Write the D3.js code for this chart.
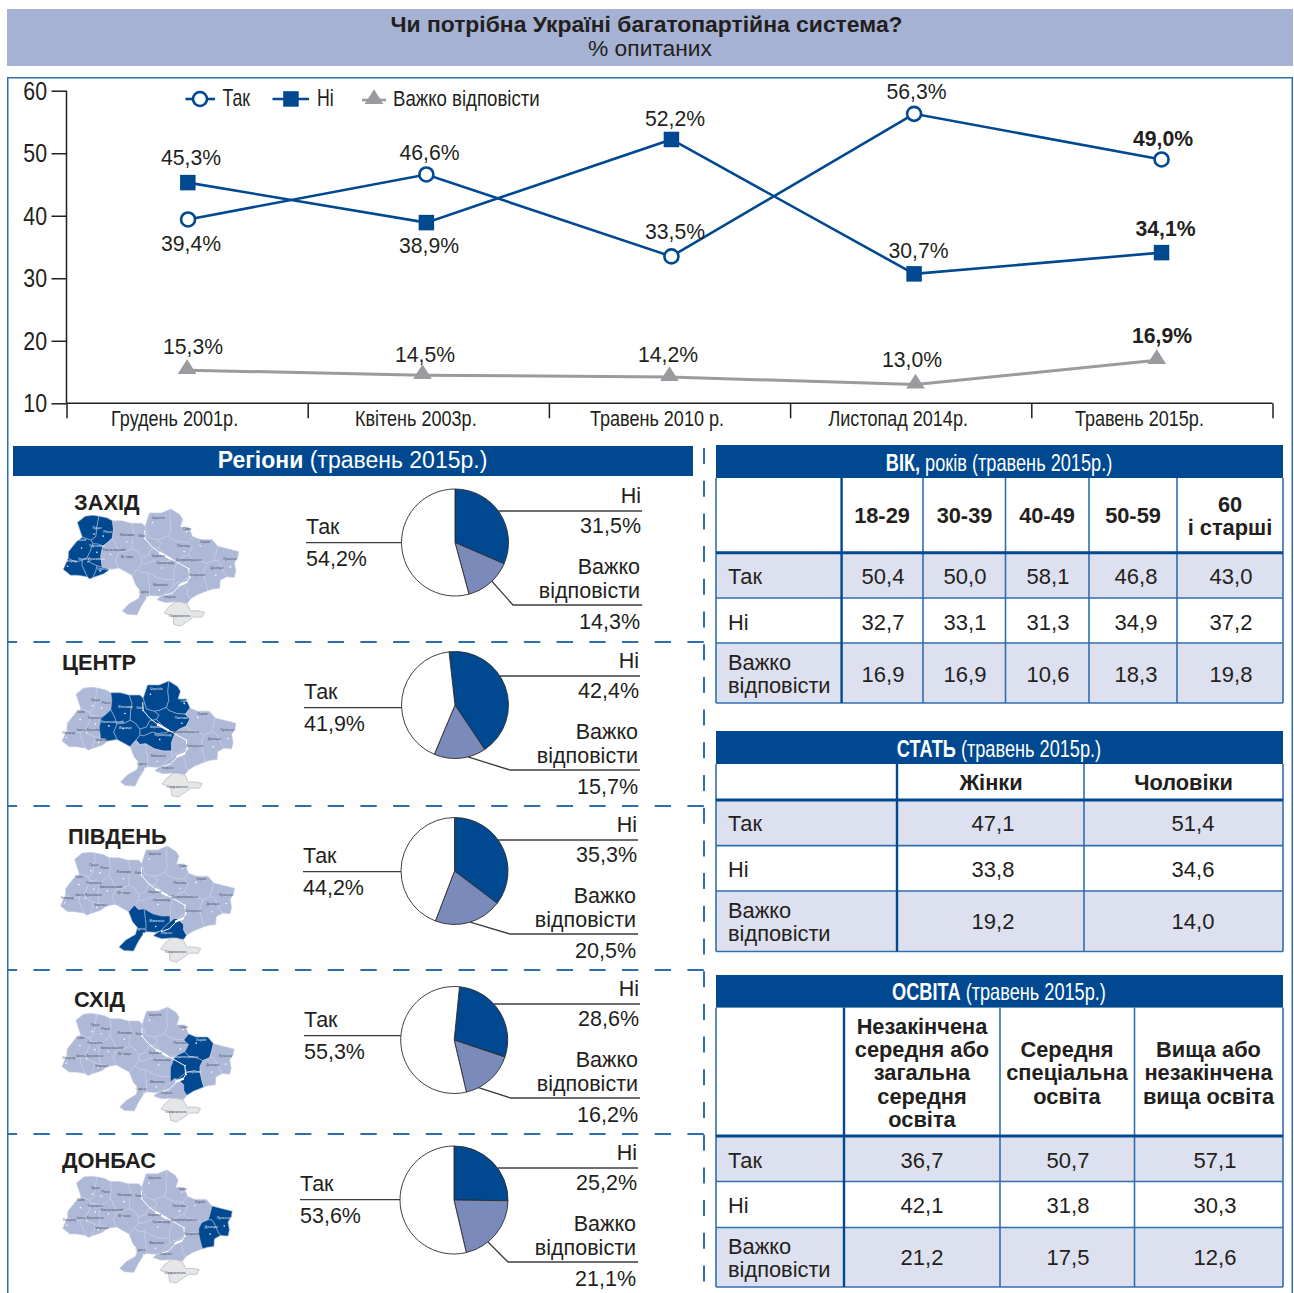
<!DOCTYPE html>
<html lang="uk">
<head>
<meta charset="utf-8">
<title>Чи потрібна Україні багатопартійна система?</title>
<script src="https://cdn.jsdelivr.net/npm/d3@7"></script>
<style>html,body{margin:0;padding:0;background:#fff}svg{display:block}</style>
</head>
<body>
<svg id="c" width="1294" height="1293" viewBox="0 0 1294 1293"></svg>
<script>
// ---------- line chart data ----------
const waves = ["Грудень 2001р.", "Квітень 2003р.", "Травень 2010 р.", "Листопад 2014р.", "Травень 2015р."];
const yesSeries = [39.4, 46.6, 33.5, 56.3, 49.0];
const noSeries = [45.3, 38.9, 52.2, 30.7, 34.1];
const hardSeries = [15.3, 14.5, 14.2, 13.0, 16.9];
const answers = ["Так", "Ні", "Важко відповісти"];
// placement of each survey wave along the axis, in band units
const yesAt = [0.504, 1.492, 2.508, 3.514, 4.54];
const noAt = [0.503, 1.492, 2.508, 3.514, 4.54];
const hardAt = [0.5, 1.476, 2.5, 3.52, 4.52];

// ---------- regional pies ----------
const regions = ["ЗАХІД", "ЦЕНТР", "ПІВДЕНЬ", "СХІД", "ДОНБАС"];
const regionKeys = ["west", "center", "south", "east", "donbas"];
const regYes = [54.2, 41.9, 44.2, 55.3, 53.6];
const regNo = [31.5, 42.4, 35.3, 28.6, 25.2];
const regHard = [14.3, 15.7, 20.5, 16.2, 21.1];

// ---------- tables ----------
const rowLabels = [["Так"], ["Ні"], ["Важко", "відповісти"]];
const ageHead = [["18-29"], ["30-39"], ["40-49"], ["50-59"], ["60", "і старші"]];
const ageYes = [50.4, 50.0, 58.1, 46.8, 43.0];
const ageNo = [32.7, 33.1, 31.3, 34.9, 37.2];
const ageHard = [16.9, 16.9, 10.6, 18.3, 19.8];
const sexHead = [["Жінки"], ["Чоловіки"]];
const sexYes = [47.1, 51.4];
const sexNo = [33.8, 34.6];
const sexHard = [19.2, 14.0];
const eduHead = [["Незакінчена", "середня або", "загальна", "середня", "освіта"], ["Середня", "спеціальна", "освіта"], ["Вища або", "незакінчена", "вища освіта"]];
const eduYes = [36.7, 50.7, 57.1];
const eduNo = [42.1, 31.8, 30.3];
const eduHard = [21.2, 17.5, 12.6];

// ---------- map geography (approximate lon/lat of oblasts) ----------
const oblasts = [
 ["Волинь","west",[[23.6,51.5],[24.4,51.9],[25.2,51.95],[25.8,51.9],[25.6,51.2],[25.5,50.6],[25.0,50.35],[24.1,50.55]]],
 ["Рівне","west",[[25.8,51.9],[26.6,51.8],[27.2,51.6],[27.3,51.1],[27.2,50.5],[26.7,50.2],[26.2,49.95],[25.7,50.1],[25.2,50.1],[25.0,50.35],[25.5,50.6],[25.6,51.2]]],
 ["Львів","west",[[22.7,49.6],[23.5,50.25],[24.1,50.55],[25.0,50.35],[25.2,50.1],[24.9,49.6],[24.6,49.2],[24.1,49.0],[23.4,48.9],[22.65,49.15]]],
 ["Тернопіль","west",[[25.2,50.1],[25.7,50.1],[26.2,49.95],[26.0,49.3],[26.15,48.55],[25.6,48.65],[24.95,48.85],[24.6,49.2],[24.9,49.6]]],
 ["Франківськ","west",[[24.1,49.0],[24.6,49.2],[24.95,48.85],[25.6,48.65],[25.5,48.3],[25.2,47.85],[24.85,47.75],[24.6,47.9],[24.05,48.7]]],
 ["Ужгород","west",[[22.15,48.4],[22.65,49.15],[23.4,48.9],[24.1,49.0],[24.05,48.7],[24.6,47.9],[23.6,48.0],[22.9,48.0]]],
 ["Чернівці","west",[[25.2,47.85],[25.5,48.3],[25.6,48.65],[26.15,48.55],[26.6,48.55],[26.9,48.4],[26.3,48.1]]],
 ["Хмельницький","center",[[27.2,50.5],[27.6,50.0],[27.85,49.55],[27.5,49.0],[27.85,48.5],[26.9,48.4],[26.6,48.55],[26.15,48.55],[26.0,49.3],[26.2,49.95],[26.7,50.2]]],
 ["Житомир","center",[[27.2,51.6],[28.2,51.6],[29.1,51.45],[29.4,50.9],[29.25,50.4],[29.2,49.8],[28.6,49.6],[27.85,49.55],[27.6,50.0],[27.2,50.5],[27.3,51.1]]],
 ["Київ","center",[[29.1,51.45],[30.2,51.45],[30.55,51.25],[30.9,50.55],[31.7,50.4],[32.2,50.15],[31.9,49.85],[31.2,49.75],[30.9,49.35],[30.2,49.2],[29.75,49.6],[29.2,49.8],[29.25,50.4],[29.4,50.9]]],
 ["Чернігів","center",[[30.55,51.25],[31.0,52.1],[32.2,52.1],[33.2,52.35],[33.1,51.7],[33.2,51.1],[32.95,50.65],[32.2,50.45],[31.7,50.4],[30.9,50.55]]],
 ["Суми","center",[[33.2,52.35],[34.1,52.0],[34.4,51.7],[34.15,51.2],[35.0,51.2],[35.4,50.6],[34.9,50.2],[34.0,50.25],[33.2,50.45],[32.95,50.65],[33.2,51.1],[33.1,51.7]]],
 ["Полтава","center",[[31.7,50.4],[32.2,50.45],[32.95,50.65],[33.2,50.45],[34.0,50.25],[34.9,50.2],[35.4,49.9],[35.0,49.4],[34.3,49.2],[33.9,49.0],[33.2,49.05],[32.2,49.65],[31.9,49.85],[32.2,50.15]]],
 ["Черкаси","center",[[30.2,49.2],[30.9,49.35],[31.2,49.75],[31.9,49.85],[32.2,49.65],[33.2,49.05],[32.9,48.95],[32.0,48.9],[31.5,49.0],[30.6,48.75],[30.2,48.8]]],
 ["Кіровоград","center",[[30.2,48.8],[30.6,48.75],[31.5,49.0],[32.0,48.9],[32.9,48.95],[33.2,49.05],[33.9,49.0],[33.5,48.3],[33.5,47.7],[32.6,47.7],[31.7,47.85],[31.2,48.05],[30.8,48.2],[30.2,48.15],[29.8,48.45]]],
 ["Вінниця","center",[[27.85,49.55],[28.6,49.6],[29.2,49.8],[29.75,49.6],[30.2,49.2],[30.2,48.8],[29.8,48.45],[29.2,48.0],[28.8,48.15],[27.85,48.5],[27.5,49.0]]],
 ["Одеса","south",[[29.2,48.0],[29.8,48.45],[30.2,48.15],[30.8,48.2],[31.0,47.2],[31.0,46.6],[30.75,46.48],[30.2,45.9],[29.7,45.2],[28.7,45.25],[28.2,45.5],[28.9,46.0],[29.9,46.4],[30.1,46.9],[29.6,47.3]]],
 ["Миколаїв","south",[[30.8,48.2],[31.2,48.05],[31.7,47.85],[32.6,47.7],[33.5,47.7],[33.5,47.3],[33.0,47.0],[32.5,46.65],[32.0,46.55],[31.0,46.6],[31.0,47.2]]],
 ["Херсон","south",[[33.0,47.0],[33.5,47.3],[33.9,47.55],[34.3,47.5],[34.9,47.1],[34.9,46.7],[35.2,46.35],[34.9,46.05],[34.2,46.1],[33.65,46.15],[32.6,46.1],[31.75,46.3],[32.1,46.5],[32.5,46.65]]],
 ["Харків","east",[[34.9,50.2],[35.4,50.6],[36.2,50.4],[37.4,50.4],[38.0,49.95],[37.8,49.4],[37.6,49.0],[36.9,48.8],[36.2,49.0],[35.4,49.1],[35.0,49.4],[35.4,49.9]]],
 ["Дніпро","east",[[33.9,49.0],[34.3,49.2],[35.0,49.4],[35.4,49.1],[36.2,49.0],[36.9,48.8],[36.6,48.4],[36.6,48.0],[36.0,48.1],[35.3,48.0],[34.9,47.85],[34.3,47.5],[33.9,47.55],[33.5,47.3],[33.5,47.7],[33.5,48.3]]],
 ["Запоріжжя","east",[[34.9,47.85],[35.3,48.0],[36.0,48.1],[36.6,48.0],[36.8,47.4],[37.0,46.95],[35.9,46.65],[35.2,46.35],[34.9,46.7],[34.9,47.1],[34.3,47.5]]],
 ["Луганськ","donbas",[[38.0,49.95],[38.9,49.8],[40.15,49.6],[40.05,49.2],[39.7,48.85],[39.85,48.3],[39.7,47.85],[38.9,47.9],[38.6,48.2],[38.2,48.8],[37.95,49.0],[37.6,49.0],[37.8,49.4]]],
 ["Донецьк","donbas",[[37.6,49.0],[37.95,49.0],[38.2,48.8],[38.6,48.2],[38.9,47.9],[38.25,47.65],[38.2,47.1],[37.5,47.05],[37.0,46.95],[36.8,47.4],[36.6,48.0],[36.6,48.4],[36.9,48.8]]],
 ["Крим","crimea",[[33.65,46.15],[34.2,46.15],[34.9,45.95],[35.2,45.5],[36.0,45.5],[36.65,45.4],[36.4,45.05],[35.5,45.05],[35.0,44.8],[34.2,44.4],[33.5,44.5],[33.4,45.1],[32.5,45.35],[33.0,45.8]]]
];
const dnieper = [[30.5,51.0],[30.55,50.45],[31.2,49.95],[31.9,49.6],[32.6,49.3],[33.4,49.05],[34.2,48.75],[35.0,48.45],[35.1,47.85],[34.9,47.6],[34.2,47.35],[33.4,46.8],[32.6,46.6]];
const reservoirs = [[[32.0,49.55],[33.2,49.1]],[[34.9,47.55],[34.0,47.3]]];
// name, lon, lat of the city, then lon, lat of its caption
const cities = [["Луцьк",25.3,50.75,25.6,51.1],["Рівне",26.25,50.62,26.7,50.85],["Львів",24.03,49.84,24.05,50.3],["Тернопіль",25.6,49.55,25.6,49.9],["Хмельницький",27.0,49.42,27.35,49.62],["Івано-Франківськ",24.7,48.92,25.05,49.05],["Ужгород",22.6,48.62,22.85,48.9],["Чернівці",25.93,48.3,26.3,48.38],["Житомир",28.66,50.25,28.7,50.6],["Київ",30.52,50.45,30.2,50.55],["Чернігів",31.3,51.5,31.9,51.75],["Суми",34.8,50.9,34.85,51.0],["Полтава",34.55,49.6,34.5,49.9],["Харків",36.2,49.99,36.7,50.15],["Луганськ",39.3,48.57,39.25,49.05],["Донецьк",37.8,48.0,37.9,48.45],["Дніпропетровськ",35.04,48.46,35.0,48.95],["Запоріжжя",35.14,47.84,35.85,47.95],["Кіровоград",32.26,48.5,32.6,48.75],["Черкаси",32.06,49.44,31.9,49.25],["Вінниця",28.47,49.23,28.7,49.2],["Миколаїв",32.0,46.97,32.1,47.25],["Одеса",30.73,46.48,30.4,46.75],["Херсон",32.62,46.64,33.1,46.45],["Сімферополь",34.1,44.95,34.1,45.05]];

// ---------- style ----------
const BLUE = "#004990", LINE = "#2f6fb0", SHADE = "#dde0ef", BAR = "#a5b2d4", INK = "#231f20",
      GREY = "#9a9b9e", MID = "#7a8bbb", LAND = "#aeb9d8", SANS = "'Liberation Sans',Arial,sans-serif";
const svg = d3.select("#c");
const comma = (v, d = 1) => v.toFixed(d).replace(".", ",");
function text(g, x, y, s, o = {}) {
  const t = g.append("text").text(s)
    .attr("font-family", SANS).attr("font-size", o.s || 21.5)
    .attr("font-weight", o.b ? "bold" : "normal").attr("fill", o.c || INK)
    .attr("text-anchor", o.a || "start");
  if (o.k) t.attr("transform", `translate(${x},${y}) scale(${o.k},1)`);
  else t.attr("x", x).attr("y", y);
  return t;
}

// ---------- header + frame ----------
svg.append("rect").attr("x", 7).attr("y", 9).attr("width", 1286).attr("height", 57).attr("fill", BAR);
text(svg, 646.5, 32, "Чи потрібна Україні багатопартійна система?", {b: 1, a: "middle", s: 22.9});
text(svg, 650, 56, "% опитаних", {a: "middle", s: 22.8});
svg.append("path").attr("d", "M7.75,1293V77.75H1292.25V1293").attr("fill", "none").attr("stroke", LINE).attr("stroke-width", 1.5);

// ---------- line chart ----------
const xU = d3.scaleLinear().domain([0, 5]).range([66.5, 1272.5]);
const yS = d3.scaleLinear().domain([10, 60]).range([403.3, 90.7]);
const gy = svg.append("g").attr("transform", "translate(66.5,0)")
  .call(d3.axisLeft(yS).tickValues([10, 20, 30, 40, 50, 60]).tickSize(15).tickFormat(d => d));
gy.selectAll("text").attr("font-family", SANS).attr("font-size", 26).attr("fill", INK).attr("x", 0).attr("dy", "0.33em")
  .attr("transform", "translate(-19.5,0) scale(0.82,1)");
const gx = svg.append("g").attr("transform", "translate(0,403.3)")
  .call(d3.axisBottom(xU).tickValues(d3.range(6)).tickSize(15).tickSizeOuter(0).tickFormat(""));
[gy, gx].forEach(g => { g.selectAll("line,path").attr("stroke", INK).attr("stroke-width", 1.5); g.select(".domain").attr("d", g === gy ? "M0,403.3V90.7" : "M66.5,0H1272.5"); });
waves.forEach((w, i) => text(svg, xU(i + 0.5) - 12.5, 426, w, {s: 22, k: 0.82, a: "middle"}));

const lineOf = (at) => d3.line().x((d, i) => xU(at[i])).y(d => yS(d));
svg.append("path").datum(hardSeries).attr("d", lineOf(hardAt)).attr("fill", "none").attr("stroke", GREY).attr("stroke-width", 3);
svg.append("path").datum(noSeries).attr("d", lineOf(noAt)).attr("fill", "none").attr("stroke", BLUE).attr("stroke-width", 2.6);
svg.append("path").datum(yesSeries).attr("d", lineOf(yesAt)).attr("fill", "none").attr("stroke", BLUE).attr("stroke-width", 2.6);
const tri = d3.symbol().type(d3.symbolTriangle).size(125);
svg.selectAll(".t").data(hardSeries).join("path").attr("d", tri()).attr("fill", GREY)
  .attr("transform", (d, i) => `translate(${xU(hardAt[i])},${yS(d) - 1}) scale(1.1,1)`);
svg.selectAll(".s").data(noSeries).join("rect").attr("width", 15.5).attr("height", 15.5).attr("fill", BLUE)
  .attr("x", (d, i) => xU(noAt[i]) - 7.75).attr("y", d => yS(d) - 7.75);
svg.selectAll(".o").data(yesSeries).join("circle").attr("r", 7).attr("fill", "#fff").attr("stroke", BLUE).attr("stroke-width", 2.6)
  .attr("cx", (d, i) => xU(yesAt[i])).attr("cy", d => yS(d));
const labelPlaces = {
  yes: [[191, 251], [429.5, 160], [675, 239], [916.5, 99], [1163, 146]],
  no: [[191, 165], [429, 253], [675, 126], [918.6, 258], [1165.5, 236]],
  hard: [[193, 354], [425, 362], [668, 362], [912, 367], [1162, 343]]
};
[[yesSeries, labelPlaces.yes], [noSeries, labelPlaces.no], [hardSeries, labelPlaces.hard]].forEach(([vals, pl]) =>
  vals.forEach((v, i) => text(svg, pl[i][0], pl[i][1], comma(v) + "%", {a: "middle", s: 21.2, b: i === 4})));
// legend
const leg = svg.append("g");
leg.append("line").attr("x1", 185.5).attr("x2", 215).attr("y1", 99).attr("y2", 99).attr("stroke", BLUE).attr("stroke-width", 2.6);
leg.append("circle").attr("cx", 200).attr("cy", 99).attr("r", 7).attr("fill", "#fff").attr("stroke", BLUE).attr("stroke-width", 2.6);
text(leg, 222.5, 106, answers[0], {s: 23, k: 0.77});
leg.append("line").attr("x1", 272.5).attr("x2", 309).attr("y1", 99).attr("y2", 99).attr("stroke", BLUE).attr("stroke-width", 2.6);
leg.append("rect").attr("x", 283.2).attr("y", 91.2).attr("width", 15.5).attr("height", 15.5).attr("fill", BLUE);
text(leg, 317, 106, answers[1], {s: 23, k: 0.77});
leg.append("line").attr("x1", 362).attr("x2", 386).attr("y1", 100).attr("y2", 100).attr("stroke", GREY).attr("stroke-width", 2.6);
leg.append("path").attr("d", tri()).attr("fill", GREY).attr("transform", "translate(374,99) scale(1.1,1)");
text(leg, 393, 106, answers[2], {s: 23, k: 0.81});

// ---------- regions panel ----------
svg.append("rect").attr("x", 13).attr("y", 446).attr("width", 680).attr("height", 30).attr("fill", BLUE);
const rt = text(svg, 352.5, 468, "", {a: "middle", c: "#fff", s: 23});
rt.append("tspan").attr("font-weight", "bold").text("Регіони");
rt.append("tspan").text(" (травень 2015р.)");
svg.append("line").attr("x1", 704).attr("x2", 704).attr("y1", 448).attr("y2", 1293).attr("stroke", LINE).attr("stroke-width", 2).attr("stroke-dasharray", "16 16.7");
[642, 806, 970, 1134].forEach(y => svg.append("line").attr("x1", 8).attr("x2", 704).attr("y1", y).attr("y2", y)
  .attr("stroke", LINE).attr("stroke-width", 1.8).attr("stroke-dasharray", "16.4 16.3").attr("stroke-dashoffset", 7.3));

const features = oblasts.map(([name, group, ring]) => {
  const f = {type: "Feature", properties: {name, group}, geometry: {type: "Polygon", coordinates: [[...ring, ring[0]]]}};
  if (d3.geoArea(f) > 2 * Math.PI) f.geometry.coordinates[0].reverse();
  return f;
});
const fc = {type: "FeatureCollection", features};
const mapBoxes = [[62, 509, 240, 626], [62, 681, 236, 797], [60, 846, 235, 962], [62, 1007, 234, 1122], [62, 1170, 233, 1283]];
const nameAt = [[74, 510], [62, 670], [68, 844], [74, 1007], [62, 1168]];
const pieAt = [[455, 542.5, 53.5], [455, 705, 53.5], [454.5, 871, 53.5], [454.2, 1040, 53.5], [454, 1200, 54]];
const pieStart = [0, -6.4, 0, 5.7, 0];
const noLine = [511, 676, 840, 1004, 1168];
const rightEdge = [642, 640, 638, 640, 638];
const yesLeft = [306, 304, 303, 304, 300];
const elbowX = [513, 510, 510, 510.7, 508];
const leaderAngle = [136.5, 166, 163, 153, 141];
const pieColors = [BLUE, MID, "#fff"];

regions.forEach((name, r) => {
  const key = regionKeys[r], g = svg.append("g");
  // map
  const b = mapBoxes[r];
  const proj = d3.geoMercator().fitExtent([[b[0], b[1]], [b[2], b[3]]], fc);
  const path = d3.geoPath(proj);
  g.selectAll(".ob").data(features).join("path").attr("d", path)
    .attr("fill", d => d.properties.group === key ? BLUE : d.properties.group === "crimea" ? "#e5e6e8" : LAND)
    .attr("stroke", d => d.properties.group === key ? "#9fb4d6" : d.properties.group === "crimea" ? "#a9abae" : "#c6cde3")
    .attr("stroke-width", 0.6).attr("stroke-linejoin", "round");
  const riv = {type: "LineString", coordinates: dnieper};
  g.append("path").attr("d", path(riv)).attr("fill", "none").attr("stroke", "#fff").attr("stroke-width", 1);
  reservoirs.forEach(c => g.append("path").attr("d", path({type: "LineString", coordinates: c})).attr("fill", "none").attr("stroke", "#fff").attr("stroke-width", 2.2));
  const inBlue = (c) => features.find(f => f.properties.group === key && d3.geoContains(f, [c[3], c[4]]));
  cities.forEach(c => {
    const p = proj([c[1], c[2]]), q = proj([c[3], c[4]]), blue = inBlue(c);
    g.append("circle").attr("cx", p[0]).attr("cy", p[1]).attr("r", 0.8).attr("fill", "#fff");
    text(g, q[0], q[1], c[0], {s: 3.4, a: "middle", c: blue ? "#e6ecf6" : "#4a4f66"});
  });
  text(g, nameAt[r][0], nameAt[r][1], name, {b: 1, s: 21.8});
  // pie
  const [cx, cy, R] = pieAt[r];
  const a0 = pieStart[r] * Math.PI / 180;
  const arcs = d3.pie().sort(null).startAngle(a0).endAngle(a0 + 2 * Math.PI)([regNo[r], regHard[r], regYes[r]]);
  const arc = d3.arc().innerRadius(0).outerRadius(R);
  g.append("g").attr("transform", `translate(${cx},${cy})`).selectAll("path").data(arcs).join("path")
    .attr("d", arc).attr("fill", (d, i) => pieColors[i]).attr("stroke", "#2b2b2b").attr("stroke-width", 0.9);
  // leaders and labels
  const L = noLine[r], Rt = rightEdge[r], Y = yesLeft[r];
  const edge = (y) => Math.sqrt(R * R - (y - cy) * (y - cy));
  const stroke = (s) => s.attr("fill", "none").attr("stroke", "#3c3c3c").attr("stroke-width", 1.3);
  g.append("path").attr("d", `M${cx + edge(L)},${L}H${Rt}`).call(stroke);
  const yLine = L + 31.7;
  g.append("path").attr("d", `M${Y},${yLine}H${cx - edge(yLine)}`).call(stroke);
  const hLine = L + 94, ang = leaderAngle[r] * Math.PI / 180;
  g.append("path").attr("d", `M${cx + R * Math.sin(ang)},${cy - R * Math.cos(ang)}L${elbowX[r]},${hLine}H${Rt}`).call(stroke);
  text(g, Rt - 1, L - 7.7, answers[1], {a: "end"});
  text(g, Rt - 1, L + 22, comma(regNo[r]) + "%", {a: "end"});
  text(g, Rt - 2, L + 63, "Важко", {a: "end"});
  text(g, Rt - 2, L + 87, "відповісти", {a: "end"});
  text(g, Rt - 2, L + 117.5, comma(regHard[r]) + "%", {a: "end"});
  text(g, Y, L + 23, answers[0]);
  text(g, Y, L + 54.5, comma(regYes[r]) + "%");
});

// ---------- tables ----------
function table(cfg) {
  const g = svg.append("g"), X = cfg.xs, Y = cfg.ys, xL = X[0], xR = X[X.length - 1];
  g.append("rect").attr("x", xL).attr("y", cfg.top).attr("width", xR - xL).attr("height", Y[0] - cfg.top).attr("fill", BLUE);
  const t = text(g, cfg.titleX, cfg.titleY, "", {s: 23, k: 0.79, a: "middle", c: "#fff"});
  t.append("tspan").attr("font-weight", "bold").text(cfg.title[0]);
  t.append("tspan").text(cfg.title[1]);
  // shaded rows
  [1, 3].forEach(i => g.append("rect").attr("x", xL).attr("y", Y[i]).attr("width", xR - xL).attr("height", Y[i + 1] - Y[i]).attr("fill", SHADE));
  // grid
  Y.slice(2).forEach(y => g.append("line").attr("x1", xL).attr("x2", xR).attr("y1", y).attr("y2", y).attr("stroke", LINE).attr("stroke-width", 1.6));
  X.forEach((x, i) => g.append("line").attr("x1", x).attr("x2", x).attr("y1", Y[0]).attr("y2", Y[4])
    .attr("stroke", i === 1 ? BLUE : LINE).attr("stroke-width", i === 1 ? 2.4 : 1.6));
  g.append("line").attr("x1", xL).attr("x2", xR).attr("y1", Y[1]).attr("y2", Y[1]).attr("stroke", BLUE).attr("stroke-width", 3);
  // header labels
  cfg.head.forEach((lines, c) => {
    const b = cfg.headBase[lines.length === 1 ? "one" : lines.length];
    lines.forEach((s, k) => text(g, cfg.headX[c], b[k], s, {b: 1, a: "middle", s: 21.8}));
  });
  // rows
  rowLabels.forEach((lines, r) => lines.forEach((s, k) => text(g, 728, lines.length > 1 ? cfg.base2[k] : cfg.base[r], s, {s: 21.8})));
  cfg.rows.forEach((vals, r) => vals.forEach((v, c) => text(g, cfg.valX[c], cfg.base[r], comma(v), {a: "middle", s: 22})));
}
table({top: 445, xs: [716, 841.6, 923, 1005.5, 1089, 1177, 1283], ys: [478, 552.7, 598, 643, 703],
  title: ["ВІК,", " років (травень 2015р.)"], titleX: 999, titleY: 471,
  head: ageHead, headX: [882, 964.5, 1047, 1133, 1230], headBase: {one: [522.7], 2: [511.7, 535]},
  rows: [ageYes, ageNo, ageHard], valX: [883, 965, 1048, 1136, 1231], base: [584, 629.5, 682], base2: [670, 693]});
table({top: 731, xs: [716, 897, 1084, 1283], ys: [764, 800, 845.6, 891, 951.5],
  title: ["СТАТЬ", " (травень 2015р.)"], titleX: 999, titleY: 757,
  head: sexHead, headX: [991, 1183.5], headBase: {one: [790]},
  rows: [sexYes, sexNo, sexHard], valX: [993, 1193], base: [831, 877, 929], base2: [918, 941]});
table({top: 975, xs: [716, 844, 1000, 1134.5, 1283], ys: [1007.6, 1136, 1181.5, 1227.5, 1287],
  title: ["ОСВІТА", " (травень 2015р.)"], titleX: 999, titleY: 1000,
  head: eduHead, headX: [922, 1067, 1208.5], headBase: {5: [1033.7, 1057, 1080, 1103.6, 1126.5], 3: [1057, 1080, 1103.6]},
  rows: [eduYes, eduNo, eduHard], valX: [922, 1068, 1215], base: [1168, 1213, 1265], base2: [1254, 1277]});
</script>
</body>
</html>
